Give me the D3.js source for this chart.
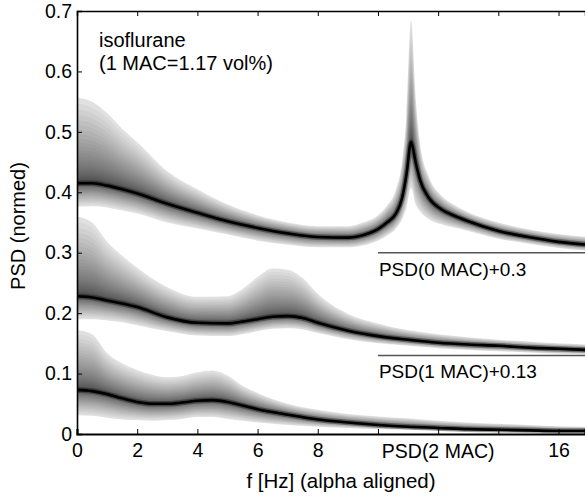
<!DOCTYPE html>
<html><head><meta charset="utf-8">
<script src="https://cdn.jsdelivr.net/npm/d3@7"></script>
<style>
html,body{margin:0;padding:0;background:#fff;}
text{font-family:"Liberation Sans",Arial,sans-serif;fill:#000;}
</style></head>
<body><svg id="c" width="585" height="498"></svg>
<script>
// ---- data (PSD percentile bands, offsets already included) ----
const freq0 = [0,0.5,1,1.5,2,3,4,5,6,7,8,9,9.5,10,10.3,10.6,10.8,10.95,11.1,11.25,11.4,11.7,12.1,12.5,13,14,15,16,17];
const median0 = [.415,.415,.411,.405,.398,.381,.366,.352,.341,.332,.326,.325,.329,.339,.350,.365,.39,.43,.483,.45,.42,.39,.372,.362,.352,.336,.326,.318,.313];
const upper0 = [.557,.55,.531,.505,.483,.435,.405,.38,.362,.35,.344,.344,.35,.362,.378,.405,.45,.53,.685,.56,.48,.425,.395,.38,.367,.35,.339,.331,.326];
const lower0 = [.376,.377,.375,.37,.365,.35,.34,.33,.32,.313,.309,.309,.312,.32,.328,.34,.355,.375,.407,.38,.368,.355,.347,.342,.336,.323,.315,.308,.303];

const freq1 = [0,0.5,1,1.5,2,3,4,5,5.5,6,6.5,7,7.5,8,9,10,11,12,13,14,15,16,17];
const median1 = [.228,.226,.221,.216,.210,.193,.184,.183,.186,.19,.194,.195,.192,.184,.171,.162,.156,.151,.148,.146,.143,.141,.139];
const upper1 = [.36,.35,.318,.295,.275,.243,.227,.228,.24,.26,.274,.272,.258,.232,.199,.183,.172,.165,.16,.156,.153,.15,.148];
const lower1 = [.19,.19,.188,.185,.18,.17,.163,.162,.165,.17,.174,.175,.173,.167,.157,.15,.146,.142,.139,.137,.135,.133,.132];

const freq2 = [0,0.5,1,1.5,2,2.5,3,3.5,4,4.5,5,5.5,6,7,8,9,10,11,12,13,14,15,16,17];
const median2 = [.073,.071,.066,.059,.053,.05,.05,.052,.055,.056,.053,.047,.041,.032,.024,.019,.015,.012,.01,.008,.007,.006,.005,.005];
const upper2 = [.172,.165,.134,.117,.106,.098,.094,.096,.102,.105,.097,.08,.068,.05,.04,.033,.029,.026,.022,.019,.017,.015,.013,.012];
const lower2 = [.031,.03,.027,.024,.023,.022,.023,.025,.028,.028,.025,.022,.019,.015,.012,.01,.008,.007,.005,.004,.003,.003,.002,.002];

const yTicks = [0,0.1,0.2,0.3,0.4,0.5,0.6,0.7];
const yTickLabels = ["0","0.1","0.2","0.3","0.4","0.5","0.6","0.7"];
const xTicks = [0,2,4,6,8,10,12,14,16];
const xTickLabels = ["0","2","4","6","8","","","","16"];
const offsetLines = [{v:0.3,label:"PSD(0 MAC)+0.3"},{v:0.13,label:"PSD(1 MAC)+0.13"}];
const bottomLabel = "PSD(2 MAC)";

// ---- layout ----
const svg = d3.select("#c");
const L = 77, R = 585, T = 11, B = 434;
const x = d3.scaleLinear().domain([0, 16.88]).range([L, R]);
const y = d3.scaleLinear().domain([0, 0.7]).range([B, T]);
const FONT = "Liberation Sans, Arial, sans-serif";

svg.append("defs").append("clipPath").attr("id","clip")
  .append("rect").attr("x",L).attr("y",T).attr("width",R-L).attr("height",B-T);

const series = [
  {f:freq0, m:median0, hi:upper0, lo:lower0},
  {f:freq1, m:median1, hi:upper1, lo:lower1},
  {f:freq2, m:median2, hi:upper2, lo:lower2}
];

const plot = svg.append("g").attr("clip-path","url(#clip)");
const N = 36;
series.forEach(s => {
  const g = plot.append("g");
  const band = t => d3.area()
      .x((d,i) => x(s.f[i]))
      .y0((d,i) => y(s.m[i] + (s.lo[i]-s.m[i])*t))
      .y1((d,i) => y(s.m[i] + (s.hi[i]-s.m[i])*t))
      .curve(d3.curveMonotoneX)(s.f);
  // outer light envelope
  g.append("path").attr("d", band(1)).attr("fill","#000").attr("fill-opacity",0.085);
  for (let k = N; k >= 1; k--) {
    const t = Math.pow(k / N, 2.6);
    g.append("path").attr("d", band(t)).attr("fill","#000").attr("fill-opacity",0.036);
  }
  const line = d3.line().x((d,i)=>x(s.f[i])).y((d,i)=>y(s.m[i])).curve(d3.curveMonotoneX);
  g.append("path").attr("d", line(s.f)).attr("fill","none").attr("stroke","#000").attr("stroke-width",5.5).attr("stroke-opacity",0.3);
  g.append("path").attr("d", line(s.f)).attr("fill","none").attr("stroke","#000").attr("stroke-width",2.6);
});

// offset reference lines
offsetLines.forEach(o => {
  svg.append("line").attr("x1",x(10)).attr("x2",R).attr("y1",y(o.v)).attr("y2",y(o.v))
    .attr("stroke","#555").attr("stroke-width",1.5);
  svg.append("text").attr("x",x(10)+1).attr("y",y(o.v)+23).attr("font-size",19).text(o.label);
});

// axes
const axB = d3.axisBottom(x).tickValues(xTicks).tickSize(-5).tickPadding(9)
  .tickFormat((d,i)=>xTickLabels[i]);
const gB = svg.append("g").attr("transform",`translate(0,${B})`).call(axB);
const axT = d3.axisTop(x).tickValues(xTicks).tickSize(-5).tickFormat("");
const gT = svg.append("g").attr("transform",`translate(0,${T})`).call(axT);
const axL = d3.axisLeft(y).tickValues(yTicks).tickSize(-5).tickPadding(5)
  .tickFormat((d,i)=>yTickLabels[i]);
const gL = svg.append("g").attr("transform",`translate(${L},0)`).call(axL);
[gB,gT,gL].forEach(g=>{
  g.select(".domain").attr("stroke","#000");
  g.selectAll(".tick line").attr("stroke","#000");
  g.selectAll("text").attr("font-size",19.5).attr("font-family",FONT).attr("fill","#000");
});
gB.select(".domain").attr("stroke-width",2.2);
gL.select(".domain").attr("stroke-width",1.6);
gT.select(".domain").attr("stroke-width",1.4);

svg.append("text").attr("x",x(12)).attr("y",B+24).attr("text-anchor","middle").attr("font-size",19.5).text(bottomLabel);

// annotations
svg.append("text").attr("x",99).attr("y",47).attr("font-size",20).text("isoflurane");
svg.append("text").attr("x",99).attr("y",70).attr("font-size",20).text("(1 MAC=1.17 vol%)");

// axis titles
svg.append("text").attr("x",341).attr("y",488).attr("text-anchor","middle").attr("font-size",20.5).text("f [Hz] (alpha aligned)");
svg.append("text").attr("transform","translate(25,226) rotate(-90)").attr("text-anchor","middle").attr("font-size",20).text("PSD (normed)");
</script></body></html>
